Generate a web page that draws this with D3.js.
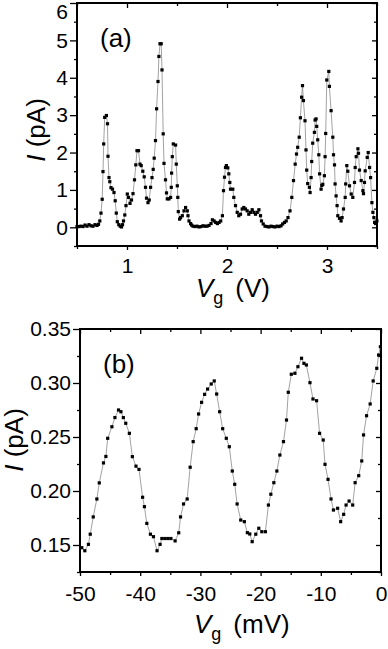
<!DOCTYPE html>
<html>
<head>
<meta charset="utf-8">
<script src="https://cdn.jsdelivr.net/npm/d3@7"></script>
<style>
body { margin: 0; background: #fff; }
svg { display: block; font-family: "Liberation Sans", Arial, Helvetica, sans-serif; }
.axis text { font-size: 21px; fill: #000; }
.axis line { stroke: #000; stroke-width: 1.3; }
.axis path { display: none; }
.frame { fill: none; stroke: #000; stroke-width: 2; }
.trace { fill: none; stroke: #8a8a8a; stroke-width: 0.8; }
.dot { fill: #000; }
.panelLabel, .axisLabel { font-size: 26px; fill: #000; }
</style>
</head>
<body>
<div id="chart"></div>
<script>
// panel (a): gate voltage in V
var vgA = [0.50, 0.52, 0.54, 0.56, 0.58, 0.60, 0.62, 0.64, 0.66, 0.68, 0.70, 0.715,
    0.728, 0.74, 0.752, 0.76, 0.767, 0.777, 0.794, 0.805, 0.81, 0.82, 0.828, 0.84, 0.855, 0.87,
    0.882, 0.893, 0.903, 0.918, 0.932, 0.945, 0.955, 0.965, 0.978, 0.99, 1.003, 1.015, 1.03,
    1.045, 1.06, 1.075, 1.088, 1.10, 1.115, 1.13, 1.142, 1.158, 1.172, 1.185, 1.195, 1.21,
    1.222, 1.236, 1.25, 1.262, 1.272, 1.285, 1.296, 1.31, 1.319, 1.33, 1.342, 1.35, 1.362,
    1.37, 1.385, 1.395, 1.403, 1.42, 1.436, 1.443, 1.446, 1.453, 1.463, 1.486, 1.493, 1.503,
    1.508, 1.513, 1.526, 1.536, 1.553, 1.57, 1.586, 1.603, 1.61, 1.62, 1.636, 1.646, 1.66,
    1.68, 1.70, 1.72, 1.74, 1.76, 1.78, 1.80, 1.82, 1.84, 1.854, 1.871, 1.887, 1.904, 1.921,
    1.937, 1.954, 1.965, 1.975, 1.985, 1.994, 2.008, 2.018, 2.028, 2.035, 2.058, 2.068, 2.085,
    2.102, 2.118, 2.135, 2.152, 2.168, 2.185, 2.202, 2.218, 2.235, 2.252, 2.269, 2.285, 2.302,
    2.319, 2.335, 2.345, 2.362, 2.38, 2.40, 2.42, 2.44, 2.46, 2.48, 2.50, 2.52, 2.54, 2.557,
    2.575, 2.592, 2.61, 2.63, 2.648, 2.665, 2.682, 2.695, 2.707, 2.722, 2.734, 2.746, 2.755,
    2.764, 2.78, 2.79, 2.797, 2.807, 2.824, 2.831, 2.841, 2.847, 2.857, 2.874, 2.881, 2.891,
    2.897, 2.907, 2.918, 2.926, 2.941, 2.948, 2.958, 2.974, 2.981, 2.987, 2.998, 3.018, 3.024,
    3.041, 3.058, 3.065, 3.075, 3.081, 3.091, 3.101, 3.108, 3.125, 3.141, 3.151, 3.165, 3.182,
    3.187, 3.198, 3.208, 3.225, 3.242, 3.258, 3.275, 3.282, 3.292, 3.309, 3.315, 3.325, 3.342,
    3.359, 3.365, 3.375, 3.382, 3.402, 3.412, 3.426, 3.436, 3.449, 3.459, 3.469, 3.476, 3.486,
    3.499];
// panel (a): current in pA
var currentA = [0.02, 0.02, 0.03, 0.02, 0.06, 0.03, 0.07, 0.04, 0.03, 0.07, 0.05, 0.08,
    0.17, 0.38, 0.75, 1.49, 2.23, 2.94, 2.99, 2.77, 1.90, 1.33, 1.22, 1.06, 1.02, 0.93,
    0.71, 0.38, 0.15, 0.07, 0.03, 0.01, 0.07, 0.17, 0.33, 0.58, 0.89, 0.80, 0.64,
    0.73, 0.90, 1.27, 1.67, 2.05, 2.05, 1.69, 1.65, 1.50, 1.35, 1.07, 0.78, 0.66,
    0.73, 1.07, 1.33, 1.55, 1.85, 2.32, 3.17, 3.90, 4.57, 4.91, 4.91, 4.21, 2.50,
    1.71, 1.27, 0.92, 0.76, 0.76, 0.80, 1.07, 1.45, 1.89, 2.23, 2.20, 1.69, 1.11,
    0.80, 0.42, 0.22, 0.26, 0.31, 0.44, 0.53, 0.44, 0.31, 0.17, 0.10, 0.06, 0.03,
    0.02, 0.03, 0.01, 0.02, 0.04, 0.03, 0.03, 0.05, 0.10, 0.20, 0.17, 0.13, 0.10, 0.13,
    0.17, 0.31, 0.98, 1.34, 1.60, 1.65, 1.59, 1.43, 1.20, 1.02, 1.02, 0.80, 0.58,
    0.40, 0.31, 0.35, 0.49, 0.53, 0.49, 0.44, 0.35, 0.40, 0.47, 0.40, 0.35, 0.40,
    0.47, 0.31, 0.17, 0.09, 0.03, 0.02, 0.01, 0.03, 0.02, 0.01, 0.03, 0.02, 0.04, 0.09,
    0.13, 0.17, 0.26, 0.44, 0.80, 1.25, 1.69, 1.96, 2.14, 2.41, 2.93, 3.48, 3.79,
    3.39, 2.85, 2.07, 1.53, 1.17, 1.07, 0.93, 1.33, 1.76, 2.25, 2.54, 2.87, 2.90,
    2.70, 2.34, 1.94, 1.43, 1.02, 1.12, 1.15, 1.38, 1.89, 2.51, 3.94, 4.17, 3.77,
    3.12, 2.41, 1.94, 1.67, 1.16, 0.84, 0.58, 0.31, 0.24, 0.17, 0.26, 0.49, 0.80,
    1.16, 1.65, 1.50, 1.11, 0.89, 0.80, 1.20, 1.60, 1.89, 2.10, 1.98, 1.53, 1.25,
    0.98, 0.90, 1.20, 1.51, 1.87, 2.00, 1.60, 1.33, 0.66, 0.40, 0.26, 0.13, 0.10,
    0.17];

// panel (b): gate voltage in mV
var vgB = [-49.7, -49.2, -48.6, -48.3, -47.8, -47.2, -46.8, -46.1, -45.7, -45.4, -44.7,
    -44.2, -43.6, -43.2, -42.8, -42.4, -41.8, -41.3, -40.7, -40.2, -39.6, -39.3, -38.9,
    -38.3, -37.8, -37.2, -36.7, -36.4, -35.9, -35.4, -34.9, -34.2, -33.6, -33.3, -32.8,
    -32.2, -31.7, -31.2, -30.7, -30.3, -29.8, -29.3, -28.8, -28.2, -27.7, -27.3, -26.8,
    -26.3, -25.7, -25.2, -24.7, -24.3, -23.9, -23.3, -22.7, -22.2, -21.8, -21.4, -20.8,
    -20.3, -19.8, -19.2, -18.7, -18.3, -17.8, -17.3, -16.8, -16.2, -15.7, -15.4, -14.9,
    -14.3, -13.8, -13.2, -12.8, -12.4, -11.8, -11.3, -10.7, -10.2, -9.6, -9.3, -8.8,
    -8.3, -7.9, -7.2, -6.7, -6.2, -5.8, -5.3, -4.7, -4.3, -3.7, -3.2, -2.9, -2.4, -1.8,
    -1.3, -0.7, -0.4, -0.1];
// panel (b): current in pA
var currentB = [0.1475, 0.1447, 0.1506, 0.160, 0.176, 0.1926, 0.2075, 0.226, 0.232, 0.2488, 0.2595,
    0.268, 0.275, 0.2734, 0.268, 0.2627, 0.2534, 0.2318, 0.223, 0.220, 0.1942, 0.1855, 0.170,
    0.160, 0.1577, 0.1447, 0.1506, 0.156, 0.156, 0.156, 0.156, 0.1538, 0.1613, 0.176, 0.188,
    0.1926, 0.222, 0.2457, 0.2577, 0.2713, 0.2821, 0.2895, 0.2944, 0.2991, 0.3019, 0.2898, 0.2734,
    0.2577, 0.2488, 0.241, 0.2185, 0.2062, 0.188, 0.1731, 0.1716, 0.1614, 0.1602, 0.1531, 0.160,
    0.1655, 0.1623, 0.1623, 0.187, 0.197, 0.2077, 0.2185, 0.2333, 0.2457, 0.2657, 0.2914, 0.3081,
    0.309, 0.3151, 0.3229, 0.3182, 0.3167, 0.3003, 0.2852, 0.2836, 0.2534, 0.2472, 0.2247, 0.2108,
    0.1926, 0.1824, 0.184, 0.1716, 0.1784, 0.187, 0.1907, 0.187, 0.2077, 0.2142, 0.2278, 0.2519, 0.2697, 0.2806,
    0.3019, 0.3136, 0.3259, 0.3336];

// axis ticks
var xTicksA = [1, 2, 3];
var xMinorA = [0.5, 1.5, 2.5, 3.5];
var yTicksA = [0, 1, 2, 3, 4, 5, 6];
var yMinorA = [-0.5, 0.5, 1.5, 2.5, 3.5, 4.5, 5.5];
var xTicksB = [-50, -40, -30, -20, -10, 0];
var xMinorB = [-45, -35, -25, -15, -5];
var yTicksB = [0.15, 0.20, 0.25, 0.30, 0.35];
var yMinorB = [0.125, 0.175, 0.225, 0.275, 0.325];

/**
 * One I(Vg) panel
 */
function SweepPanel(svg, opts){
    var self = this;
    self.svg = svg;
    self.opts = opts;
    self.init();
}

SweepPanel.prototype.init = function(){
    var self = this;
    var o = self.opts;

    self.x = d3.scaleLinear().domain(o.xDomain).range([o.left, o.right]);
    self.y = d3.scaleLinear().domain(o.yDomain).range([o.bottom, o.top]);

    self.g = self.svg.append("g");
};

SweepPanel.prototype.update = function(xs, ys){
    var self = this;
    var o = self.opts;
    var data = xs.map(function(v, i){ return {vg: v, cur: ys[i]}; });

    //plain hyphen for negatives, like the original
    var fmtX = function(d){ return String(d); };

    //bottom axis, ticks point out
    self.g.append("g").attr("class", "axis")
        .attr("transform", "translate(0," + o.bottom + ")")
        .call(d3.axisBottom(self.x).tickValues(o.xTicks).tickSizeInner(4).tickSizeOuter(0)
            .tickPadding(o.xPad).tickFormat(fmtX));
    self.g.append("g").attr("class", "axis")
        .attr("transform", "translate(0," + o.bottom + ")")
        .call(d3.axisBottom(self.x).tickValues(o.xMinor).tickSize(3).tickFormat(""));

    //top axis, ticks point in
    self.g.append("g").attr("class", "axis")
        .attr("transform", "translate(0," + o.top + ")")
        .call(d3.axisTop(self.x).tickValues(o.xTicks).tickSize(-5).tickFormat(""));
    self.g.append("g").attr("class", "axis")
        .attr("transform", "translate(0," + o.top + ")")
        .call(d3.axisTop(self.x).tickValues(o.xMinor).tickSize(-3).tickFormat(""));

    //left axis
    var yAxis = self.g.append("g").attr("class", "axis")
        .attr("transform", "translate(" + o.left + ",0)")
        .call(d3.axisLeft(self.y).tickValues(o.yTicks).tickSizeInner(o.yTick).tickSizeOuter(0)
            .tickPadding(2).tickFormat(d3.format(o.yFormat)));
    self.g.append("g").attr("class", "axis")
        .attr("transform", "translate(" + o.left + ",0)")
        .call(d3.axisLeft(self.y).tickValues(o.yMinor).tickSize(3).tickFormat(""));

    //the top label sits lower so it stays inside the page
    if(o.nudgeTop){
        yAxis.selectAll(".tick text")
            .filter(function(d){ return d == o.yDomain[1]; })
            .attr("dy", "0.73em");
    }

    //right axis
    self.g.append("g").attr("class", "axis")
        .attr("transform", "translate(" + o.right + ",0)")
        .call(d3.axisRight(self.y).tickValues(o.yTicks).tickSize(-5).tickFormat(""));
    self.g.append("g").attr("class", "axis")
        .attr("transform", "translate(" + o.right + ",0)")
        .call(d3.axisRight(self.y).tickValues(o.yMinor).tickSize(-3).tickFormat(""));

    self.g.append("rect").attr("class", "frame")
        .attr("x", o.left).attr("y", o.top)
        .attr("width", o.right - o.left).attr("height", o.bottom - o.top);

    var line = d3.line()
        .x(function(d){ return self.x(d.vg); })
        .y(function(d){ return self.y(d.cur); });

    self.g.append("path").datum(data)
        .attr("class", "trace")
        .attr("d", line);

    self.g.selectAll(".dot" + o.name)
        .data(data)
        .enter().append("rect")
        .attr("class", "dot dot" + o.name)
        .attr("x", function(d){ return self.x(d.vg) - 1.6; })
        .attr("y", function(d){ return self.y(d.cur) - 1.6; })
        .attr("width", 3.2)
        .attr("height", 3.2);

    // (a) / (b)
    self.g.append("text").attr("class", "panelLabel")
        .attr("x", o.left + 23).attr("y", o.top + 44)
        .text(o.label);

    //y label, rotated
    var yl = self.g.append("text").attr("class", "axisLabel")
        .attr("transform", "translate(" + o.yLabelX + "," + o.yLabelY + ") rotate(-90)")
        .attr("text-anchor", "middle");
    yl.append("tspan").style("font-style", "italic").text("I");
    yl.append("tspan").text(" (pA)");

    //x label with subscript g
    var xl = self.g.append("text").attr("class", "axisLabel")
        .attr("x", o.xLabelX).attr("y", o.xLabelY);
    xl.append("tspan").style("font-style", "italic").text("V");
    xl.append("tspan").attr("dy", 7).style("font-size", "18px").text("g");
    xl.append("tspan").attr("dy", -7).attr("dx", o.unitGap).text(o.unit);
};

var svg = d3.select("#chart").append("svg")
    .attr("width", 388)
    .attr("height", 649);

var panelA = new SweepPanel(svg, {
    name: "A", label: "(a)",
    left: 77, right: 377, top: 3, bottom: 246,
    xDomain: [0.5, 3.5], yDomain: [-0.5, 6],
    xTicks: xTicksA, xMinor: xMinorA, yTicks: yTicksA, yMinor: yMinorA,
    yFormat: "d", yTick: 7, xPad: 8, nudgeTop: true,
    yLabelX: 45, yLabelY: 130,
    xLabelX: 196, xLabelY: 297, unit: "(V)", unitGap: 12
});
panelA.update(vgA, currentA);

var panelB = new SweepPanel(svg, {
    name: "B", label: "(b)",
    left: 80, right: 381, top: 329, bottom: 572,
    xDomain: [-50, 0], yDomain: [0.125, 0.35],
    xTicks: xTicksB, xMinor: xMinorB, yTicks: yTicksB, yMinor: yMinorB,
    yFormat: ".2f", yTick: 7, xPad: 10,
    yLabelX: 23, yLabelY: 440,
    xLabelX: 194, xLabelY: 633, unit: "(mV)", unitGap: 12
});
panelB.update(vgB, currentB);
</script>
</body>
</html>
